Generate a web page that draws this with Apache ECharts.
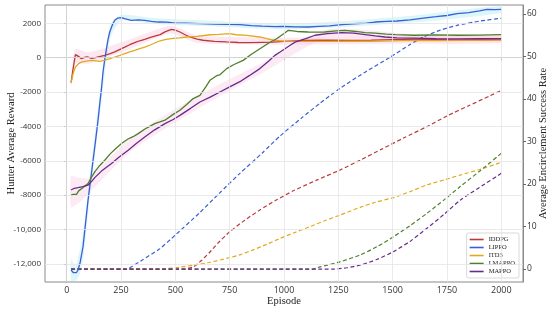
<!DOCTYPE html>
<html>
<head>
<meta charset="utf-8">
<script src="https://cdn.jsdelivr.net/npm/echarts@6/dist/echarts.min.js"></script>
<style>
  html, body { margin: 0; padding: 0; background: #fff; }
  #container { width: 550px; height: 310px; }
</style>
</head>
<body>
<div id="container"></div>
<script>
// tick positions
var xTicks = [0, 250, 500, 750, 1000, 1250, 1500, 1750, 2000];
var rewardTicks = [-12000, -10000, -8000, -6000, -4000, -2000, 0, 2000];
var rateTicks = [0, 10, 20, 30, 40, 50, 60];

var names = ['IDDPG', 'LIPPO', 'ITD3', 'LMAPPO', 'MAPPO'];
var colors = ['#b83a3c', '#3a5fd6', '#e2a91e', '#4d7f2a', '#6b2a8c'];

// hunter average reward (left axis), [episode, reward]
var iddpgReward = [[20,-1450],[30,-600],[40,170],[50,100],[68,-60],[85,30],[98,35],[115,-40],[128,-20],[150,60],[175,130],[200,230],[221,330],[245,480],[267,610],[290,750],[313,870],[336,980],[359,1060],[382,1160],[405,1250],[430,1340],[452,1500],[482,1640],[500,1600],[521,1490],[545,1330],[567,1200],[600,1080],[627,1010],[680,950],[736,910],[790,880],[843,870],[900,890],[949,900],[1000,950],[1100,1000],[1200,1010],[1300,1000],[1400,1020],[1500,1050],[1600,1080],[1700,1060],[1800,1040],[1900,1050],[2000,1050]];
var lippoReward = [[20,-12350],[30,-12500],[37,-12600],[45,-12500],[52,-12350],[62,-11900],[75,-11000],[86,-9700],[98,-8300],[110,-7100],[121,-6000],[133,-4800],[144,-3650],[152,-2700],[160,-1800],[167,-850],[175,-100],[183,520],[190,1050],[198,1490],[210,1900],[221,2170],[235,2300],[252,2330],[270,2250],[298,2170],[330,2190],[359,2160],[390,2110],[421,2070],[460,2060],[500,2010],[550,2000],[613,1980],[680,1950],[740,1930],[797,1920],[850,1860],[900,1830],[958,1800],[1000,1810],[1050,1790],[1111,1780],[1160,1820],[1210,1850],[1266,1920],[1320,1970],[1380,2010],[1419,2070],[1473,2110],[1520,2130],[1580,2200],[1642,2300],[1700,2380],[1750,2450],[1796,2560],[1850,2620],[1900,2720],[1934,2800],[1970,2790],[2000,2800]];
var itd3Reward = [[20,-1450],[30,-900],[40,-550],[55,-350],[68,-260],[90,-200],[114,-160],[135,-190],[152,-215],[175,-150],[200,-60],[221,35],[245,130],[267,230],[290,330],[313,420],[336,520],[359,610],[382,720],[405,850],[430,980],[452,1040],[480,1100],[520,1150],[552,1200],[600,1240],[659,1330],[700,1350],[751,1390],[780,1330],[828,1290],[889,1200],[920,1100],[951,1010],[1000,960],[1100,950],[1200,940],[1300,960],[1400,950],[1500,970],[1600,1000],[1700,990],[1800,1010],[1900,1000],[2000,1020]];
var lmappoReward = [[20,-8000],[30,-7950],[45,-7950],[55,-7750],[68,-7620],[85,-7450],[98,-7330],[112,-7000],[129,-6650],[150,-6300],[175,-5970],[200,-5600],[225,-5300],[252,-5000],[280,-4750],[305,-4600],[329,-4420],[360,-4150],[405,-3840],[429,-3740],[452,-3640],[490,-3300],[521,-3060],[552,-2730],[582,-2380],[613,-2200],[640,-1700],[659,-1320],[690,-1050],[705,-1000],[736,-640],[770,-400],[812,-160],[850,200],[889,520],[930,850],[966,1100],[1000,1400],[1020,1590],[1060,1520],[1111,1490],[1150,1480],[1188,1490],[1240,1560],[1281,1590],[1330,1520],[1373,1450],[1420,1420],[1470,1370],[1512,1340],[1600,1300],[1700,1320],[1800,1300],[1900,1310],[2000,1340]];
var mappoReward = [[20,-7700],[35,-7600],[52,-7560],[75,-7500],[98,-7420],[115,-7200],[129,-6980],[160,-6600],[206,-6160],[240,-5800],[283,-5390],[320,-5000],[359,-4620],[405,-4200],[452,-3840],[490,-3600],[521,-3360],[570,-2950],[613,-2580],[660,-2300],[705,-2000],[750,-1700],[797,-1400],[840,-1050],[889,-640],[930,-200],[958,130],[982,330],[1020,650],[1051,900],[1100,1100],[1143,1300],[1200,1400],[1266,1450],[1320,1420],[1373,1340],[1420,1260],[1465,1200],[1520,1150],[1600,1130],[1700,1100],[1800,1090],[1900,1100],[2000,1100]];

// light spread bands behind the reward curves, [episode, low, high]
var lippoBand = [[20,-12950,-11700],[40,-13000,-12100],[60,-12600,-11200],[80,-11300,-9800],[100,-8900,-7600],[150,-3600,-2300],[200,1100,1900],[250,2150,2500],[400,1950,2300],[700,1800,2120],[1000,1650,1980],[1300,1800,2150],[1600,2050,2450],[2000,2600,3000]];
var iddpgBand = [[20,-1800,-1100],[40,-350,500],[100,-350,300],[300,550,1100],[480,1400,1850],[600,850,1300],[1000,750,1150],[1500,800,1250],[2000,850,1250]];
var mappoBand = [[20,-8700,-6900],[60,-8400,-7000],[100,-7900,-7000],[300,-5400,-4600],[600,-3000,-2250],[900,-900,-300],[1200,1150,1650],[1600,950,1350],[2000,950,1300]];
var bands = [[lippoBand, '#8fe0f0'], [iddpgBand, '#f7b3d4'], [mappoBand, '#f5b8dc']];

// average encirclement success rate (right axis), [episode, rate]
var iddpgRate = [[20,0],[540,0],[582,0.5],[620,2],[659,4],[700,6.3],[751,8.8],[820,11.5],[889,13.9],[960,16.1],[1043,18.4],[1150,20.9],[1258,23.3],[1350,25.6],[1450,28.2],[1550,30.8],[1658,33.5],[1750,36],[1850,38.4],[1950,40.8],[2000,42]];
var lippoRate = [[20,0],[275,0],[300,0.6],[350,2.2],[429,4.8],[500,8],[613,13.3],[700,17.7],[797,22.5],[900,27.3],[982,31.3],[1080,35.5],[1166,39],[1258,42.5],[1373,46.3],[1488,49.8],[1580,52.8],[1642,54.6],[1720,56.2],[1796,57.3],[1900,58.3],[2000,59]];
var itd3Rate = [[20,0],[430,0],[500,0.3],[582,0.9],[660,1.6],[736,2.5],[800,3.4],[858,4.5],[920,5.8],[982,7.2],[1050,8.6],[1120,10],[1190,11.4],[1258,12.7],[1350,14.5],[1420,15.7],[1504,16.8],[1580,18.2],[1658,19.8],[1740,21],[1811,22.1],[1900,23.4],[2000,25.1]];
var lmappoRate = [[20,0],[1130,0],[1166,0.5],[1258,1.7],[1350,3.3],[1430,5.3],[1504,7.6],[1580,10.2],[1658,13.1],[1735,16.2],[1811,19.4],[1900,23],[2000,27.2]];
var mappoRate = [[20,0],[1230,0],[1290,0.3],[1350,0.9],[1430,2.3],[1504,4.1],[1580,6.5],[1658,9.6],[1735,12.8],[1811,16.2],[1900,19.2],[2000,22.5]];

var rewards = [iddpgReward, lippoReward, itd3Reward, lmappoReward, mappoReward];
var rates = [iddpgRate, lippoRate, itd3Rate, lmappoRate, mappoRate];

var serif = 'Liberation Serif';
var sans = 'Open Sans';

var dom = document.getElementById('container');
var myChart = echarts.init(dom, null, { renderer: 'canvas' });

var fmtReward = (v) => Math.abs(v) >= 10000 ? v.toLocaleString('en-US') : String(v);

var gridLines = xTicks.map(v => ({ xAxis: v })).concat(rewardTicks.map(v => ({ yAxis: v })));

var series = [{
    name: 'grid',
    type: 'line',
    data: [[0, 0]],
    yAxisIndex: 0,
    showSymbol: false,
    lineStyle: { opacity: 0 },
    silent: true,
    z: 1,
    markLine: {
        silent: true,
        symbol: ['none', 'none'],
        label: { show: false },
        lineStyle: { color: '#e4e4e4', width: 0.8, type: 'solid' },
        data: gridLines
    }
}];

// bands drawn as one polygon each (upper edge, then lower edge back)
bands.forEach((b) => {
    var pts = b[0];
    series.push({
        type: 'custom',
        yAxisIndex: 0,
        silent: true,
        z: 2,
        clip: true,
        data: pts,
        encode: { x: 0, y: [1, 2] },
        renderItem: (params, api) => {
            if (params.dataIndex !== 0) return null;
            var up = pts.map(p => api.coord([p[0], p[2]]));
            var low = pts.slice().reverse().map(p => api.coord([p[0], p[1]]));
            return {
                type: 'polygon',
                shape: { points: up.concat(low), smooth: 0.2 },
                style: { fill: b[1], opacity: 0.3 }
            };
        }
    });
});

names.forEach((n, i) => {
    series.push({
        name: n,
        type: 'line',
        yAxisIndex: 1,
        data: rates[i],
        showSymbol: false,
        smooth: 0.2,
        z: 3,
        lineStyle: { color: colors[i], width: 1.2, type: [4, 2.5] },
        itemStyle: { color: colors[i] }
    });
});
names.forEach((n, i) => {
    series.push({
        name: n,
        type: 'line',
        yAxisIndex: 0,
        data: rewards[i],
        showSymbol: false,
        z: 4,
        lineStyle: { color: colors[i], width: 1.3 },
        itemStyle: { color: colors[i] }
    });
});

var option = {
    animation: false,
    grid: {
        left: 45, right: 27, top: 5, bottom: 28,
        outerBoundsMode: 'none',
        containLabel: false,
        show: true, borderColor: '#8a8a8a', borderWidth: 1
    },
    legend: {
        data: names,
        orient: 'vertical',
        right: 31,
        bottom: 32,
        icon: 'rect',
        itemWidth: 14,
        itemHeight: 1.6,
        itemGap: 1,
        backgroundColor: '#fff',
        borderColor: '#cfcfcf',
        borderWidth: 0.8,
        borderRadius: 2,
        padding: [3, 4, 3, 3],
        textStyle: { fontFamily: serif, fontSize: 6.5, color: '#222' }
    },
    xAxis: {
        type: 'value',
        min: -100,
        max: 2100,
        name: 'Episode',
        nameLocation: 'middle',
        nameGap: 14,
        nameMoveOverlap: false,
        nameTextStyle: { fontFamily: serif, fontSize: 10.5, color: '#222' },
        axisLine: { show: true, lineStyle: { color: '#8a8a8a' } },
        axisTick: { show: true, length: 3, customValues: xTicks, lineStyle: { color: '#666' } },
        axisLabel: { customValues: xTicks, formatter: (v) => String(v), fontFamily: sans, fontSize: 9, color: '#333', margin: 4 },
        splitLine: { show: false }
    },
    yAxis: [{
        type: 'value',
        position: 'left',
        min: -13050,
        max: 3060,
        name: 'Hunter Average Reward',
        nameLocation: 'middle',
        nameGap: 28,
        nameMoveOverlap: false,
        nameTextStyle: { fontFamily: serif, fontSize: 10.5, color: '#222' },
        axisLine: { show: true, lineStyle: { color: '#8a8a8a' } },
        axisTick: { show: true, length: 3, customValues: rewardTicks, lineStyle: { color: '#666' } },
        axisLabel: { customValues: rewardTicks, formatter: fmtReward, fontFamily: sans, fontSize: 8, color: '#333', margin: 4 },
        splitLine: { show: false }
    }, {
        type: 'value',
        position: 'right',
        min: -3.05,
        max: 62.1,
        name: 'Average Encirclement Success Rate',
        nameLocation: 'middle',
        nameGap: 15,
        nameRotate: 90,
        nameMoveOverlap: false,
        nameTextStyle: { fontFamily: serif, fontSize: 10.5, color: '#222' },
        axisLine: { show: true, lineStyle: { color: '#8a8a8a' } },
        axisTick: { show: true, length: 3, customValues: rateTicks, lineStyle: { color: '#666' } },
        axisLabel: { customValues: rateTicks, showMinLabel: true, formatter: (v) => String(v), fontFamily: sans, fontSize: 8.5, color: '#333', margin: 4 },
        splitLine: { show: false }
    }],
    series: series
};

if (option && typeof option === 'object') {
    myChart.setOption(option, true);
}
</script>
</body>
</html>
